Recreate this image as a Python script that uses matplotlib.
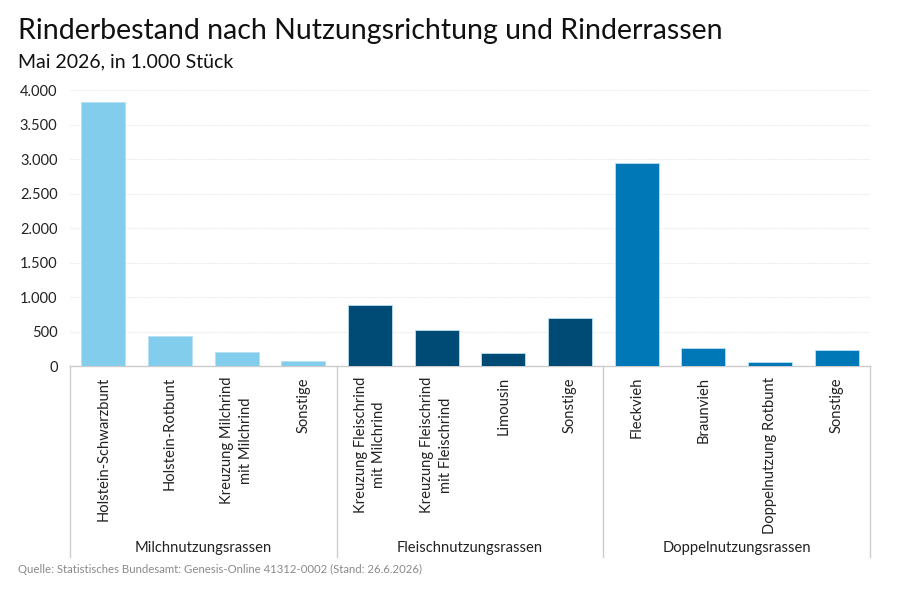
import matplotlib
matplotlib.use("Agg")
import matplotlib.pyplot as plt
import matplotlib.transforms as mtransforms

categories = ["Holstein-Schwarzbunt", "Holstein-Rotbunt", "Kreuzung Milchrind\nmit Milchrind", "Sonstige",
              "Kreuzung Fleischrind\nmit Milchrind", "Kreuzung Fleischrind\nmit Fleischrind", "Limousin", "Sonstige",
              "Fleckvieh", "Braunvieh", "Doppelnutzung Rotbunt", "Sonstige"]
values = [3835, 435, 197, 72, 884, 516, 193, 696, 2942, 255, 52, 226]
groups = ["Milchnutzungsrassen", "Fleischnutzungsrassen", "Doppelnutzungsrassen"]
group_sizes = [4, 4, 4]
group_colors = ["#82CDEC", "#004B76", "#0077B6"]
yticks = [0, 500, 1000, 1500, 2000, 2500, 3000, 3500, 4000]
ytick_labels = ["0", "500", "1.000", "1.500", "2.000", "2.500", "3.000", "3.500", "4.000"]

plt.rcParams['font.family'] = ['Lato', 'DejaVu Sans']

fig = plt.figure(figsize=(9, 5.89), dpi=100)
ax = fig.add_axes([70/900, 1-366/589, 800/900, (366-90.3)/589])

colors = []
for g, n in enumerate(group_sizes):
    colors += [group_colors[g]] * n
x = list(range(len(categories)))
ax.bar(x, values, width=0.66, color=colors, edgecolor="#b8e0f2", linewidth=0.6, zorder=3)

ax.set_xlim(-0.5, len(categories) - 0.5)
ax.set_ylim(0, 4000)
ax.set_yticks(yticks)
ax.set_yticklabels(ytick_labels, fontsize=10.5, color="#222222")
ax.tick_params(axis='y', length=0, pad=9)
ax.tick_params(axis='x', length=0, labelbottom=False)
ax.grid(axis='y', color="#e6e6e6", linestyle=(0, (1, 1)), linewidth=0.8, zorder=0)
for s in ["top", "right", "left"]:
    ax.spines[s].set_visible(False)
ax.spines["bottom"].set_color("#cccccc")
ax.spines["bottom"].set_linewidth(1.0)

trans = mtransforms.blended_transform_factory(ax.transData, fig.transFigure)
for i, c in enumerate(categories):
    ax.text(i, 1-377/589, c, transform=trans, rotation=90, ha='center', va='top',
            multialignment='center', fontsize=10.6, color="#222222", linespacing=1.45)

start = -0.5
for g, n in enumerate(group_sizes):
    end = start + n
    ax.plot([start, start], [1-366/589, 1-557/589], transform=trans, color="#cccccc",
            linewidth=1.0, clip_on=False)
    ax.text((start + end) / 2, 1-548/589, groups[g], transform=trans, ha='center', va='center',
            fontsize=10.6, color="#222222")
    start = end
ax.plot([start, start], [1-366/589, 1-557/589], transform=trans, color="#cccccc",
        linewidth=1.0, clip_on=False)

fig.text(18/900, 1-31/589, "Rinderbestand nach Nutzungsrichtung und Rinderrassen", fontsize=20.5,
         ha='left', va='center', color="#111111")
fig.text(18/900, 1-62/589, "Mai 2026, in 1.000 Stück", fontsize=14, ha='left', va='center', color="#111111")
fig.text(18/900, 1-569/589, "Quelle: Statistisches Bundesamt: Genesis-Online 41312-0002 (Stand: 26.6.2026)",
         fontsize=8.2, ha='left', va='center', color="#8a8a8a")

fig.savefig("out.png", dpi=100)
